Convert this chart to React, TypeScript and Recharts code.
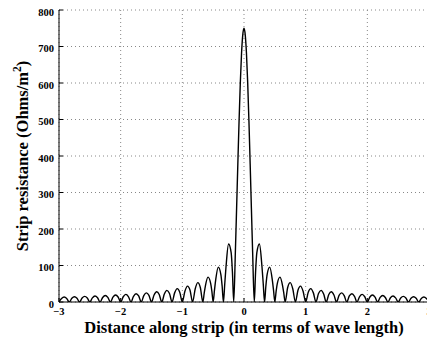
import React from "react";
import { LineChart, Line, XAxis, YAxis, CartesianGrid, Label } from "recharts";

// distance along strip (wave lengths)
const distance: number[] = [
  -3, -2.9583, -2.9167, -2.875, -2.8333,
  -2.7917, -2.75, -2.7083, -2.6667,
  -2.625, -2.5833, -2.5417, -2.5,
  -2.4583, -2.4167, -2.375, -2.3333,
  -2.2917, -2.25, -2.2083, -2.1667,
  -2.125, -2.0833, -2.0417, -2.0,
  -1.9583, -1.9167, -1.875, -1.8333,
  -1.7917, -1.75, -1.7083, -1.6667,
  -1.625, -1.5833, -1.5417, -1.5,
  -1.4583, -1.4167, -1.375, -1.3333,
  -1.2917, -1.25, -1.2083, -1.1667,
  -1.125, -1.0833, -1.0417, -1.0,
  -0.9583, -0.9167, -0.875, -0.8333,
  -0.7917, -0.75, -0.7083, -0.6667,
  -0.6458, -0.625, -0.5833, -0.5417, -0.5208, -0.5,
  -0.4792, -0.4583, -0.4167, -0.375, -0.3542, -0.3333,
  -0.3125, -0.2917, -0.25, -0.2083, -0.1875, -0.1667,
  -0.14, -0.12, -0.1, -0.08, -0.06, -0.04, -0.02, 0,
  0.02, 0.04, 0.06, 0.08, 0.1, 0.12, 0.14, 0.1667,
  0.1875, 0.2083, 0.25, 0.2917, 0.3125, 0.3333,
  0.3542, 0.375, 0.4167, 0.4583, 0.4792, 0.5,
  0.5208, 0.5417, 0.5833, 0.625, 0.6458, 0.6667,
  0.7083, 0.75, 0.7917, 0.8333,
  0.875, 0.9167, 0.9583, 1.0,
  1.0417, 1.0833, 1.125, 1.1667,
  1.2083, 1.25, 1.2917, 1.3333,
  1.375, 1.4167, 1.4583, 1.5,
  1.5417, 1.5833, 1.625, 1.6667,
  1.7083, 1.75, 1.7917, 1.8333,
  1.875, 1.9167, 1.9583, 2.0,
  2.0417, 2.0833, 2.125, 2.1667,
  2.2083, 2.25, 2.2917, 2.3333,
  2.375, 2.4167, 2.4583, 2.5,
  2.5417, 2.5833, 2.625, 2.6667,
  2.7083, 2.75, 2.7917, 2.8333,
  2.875, 2.9167, 2.9583, 3.0,
];

// strip resistance (Ohms/m^2) at each distance
const resistance: number[] = [
  0, 9.5, 13.6, 9.8, 0,
  10.1, 14.5, 10.4, 0,
  10.7, 15.4, 11.1, 0,
  11.4, 16.5, 11.8, 0,
  12.3, 17.7, 12.7, 0,
  13.2, 19.1, 13.8, 0,
  14.4, 20.8, 15, 0,
  15.7, 22.7, 16.5, 0,
  17.3, 25.1, 18.2, 0,
  19.3, 28.1, 20.5, 0,
  21.8, 31.8, 23.3, 0,
  25, 36.7, 27, 0,
  29.4, 43.4, 32.2, 0,
  35.5, 53, 39.7, 0,
  23.6, 45, 68.2, 51.9, 29.2, 0,
  31.8, 61.4, 95.5, 75, 43, 0,
  48.8, 96.4, 159, 135, 81.3, 0,
  137, 256, 378, 496, 600, 681, 732, 750,
  732, 681, 600, 496, 378, 256, 137, 0,
  81.3, 135, 159, 96.4, 48.8, 0,
  43, 75, 95.5, 61.4, 31.8, 0,
  29.2, 51.9, 68.2, 45, 23.6, 0,
  39.7, 53, 35.5, 0,
  32.2, 43.4, 29.4, 0,
  27, 36.7, 25, 0,
  23.3, 31.8, 21.8, 0,
  20.5, 28.1, 19.3, 0,
  18.2, 25.1, 17.3, 0,
  16.5, 22.7, 15.7, 0,
  15, 20.8, 14.4, 0,
  13.8, 19.1, 13.2, 0,
  12.7, 17.7, 12.3, 0,
  11.8, 16.5, 11.4, 0,
  11.1, 15.4, 10.7, 0,
  10.4, 14.5, 10.1, 0,
  9.8, 13.6, 9.5, 0,
];

const xTicks = [-3, -2, -1, 0, 1, 2, 3];
const yTicks = [0, 100, 200, 300, 400, 500, 600, 700, 800];

const data = distance.map((d, i) => ({ d, r: resistance[i] }));

const font = "'Liberation Serif', 'Times New Roman', serif";
const tickStyle = { fontFamily: font, fontWeight: 700, fontSize: 10.5, fill: "#000" };

const fmtX = (v: number) => (v < 0 ? `\u2212${-v}` : `${v}`);

const YTitle = () => (
  <text
    x={28}
    y={156}
    transform="rotate(-90 28 156)"
    textAnchor="middle"
    fontFamily={font}
    fontWeight={700}
    fontSize={16.5}
    fill="#000"
  >
    Strip resistance (Ohms/m
    <tspan dy={-7} fontSize={11.5}>2</tspan>
    <tspan dy={7}>)</tspan>
  </text>
);

const XTitle = () => (
  <text
    x={244}
    y={333}
    textAnchor="middle"
    fontFamily={font}
    fontWeight={700}
    fontSize={16.5}
    fill="#000"
  >
    Distance along strip (in terms of wave length)
  </text>
);

export default function App() {
  return (
    <div
      style={{
        position: "fixed",
        left: 0,
        top: 0,
        width: 427,
        height: 339,
        overflow: "hidden",
        background: "#fff",
      }}
    >
      <LineChart
        width={440}
        height={339}
        data={data}
        margin={{ top: 10, right: 11, bottom: 0, left: 0 }}
      >
        <CartesianGrid stroke="#888" strokeDasharray="1 3" />
        <XAxis
          dataKey="d"
          type="number"
          domain={[-3, 3]}
          ticks={xTicks}
          allowDataOverflow
          height={37}
          tickSize={-4}
          tickMargin={10}
          tickFormatter={fmtX}
          tick={tickStyle}
          stroke="#000"
          interval={0}
        >
          <Label content={XTitle} />
        </XAxis>
        <XAxis
          xAxisId="top"
          orientation="top"
          dataKey="d"
          type="number"
          domain={[-3, 3]}
          ticks={xTicks}
          allowDataOverflow
          height={0}
          tickSize={-4}
          tick={false}
          stroke="#000"
        />
        <YAxis
          domain={[0, 800]}
          ticks={yTicks}
          allowDataOverflow
          width={59}
          tickSize={-4}
          tickMargin={9}
          tick={{ ...tickStyle, dy: 2 }}
          stroke="#000"
          interval={0}
        >
          <Label content={YTitle} />
        </YAxis>
        <YAxis
          yAxisId="right"
          orientation="right"
          domain={[0, 800]}
          ticks={yTicks}
          allowDataOverflow
          width={0}
          tickSize={-4}
          tick={false}
          stroke="#000"
        />
        <Line
          type="monotone"
          dataKey="r"
          stroke="#000"
          strokeWidth={1.4}
          dot={false}
          isAnimationActive={false}
        />
      </LineChart>
    </div>
  );
}
